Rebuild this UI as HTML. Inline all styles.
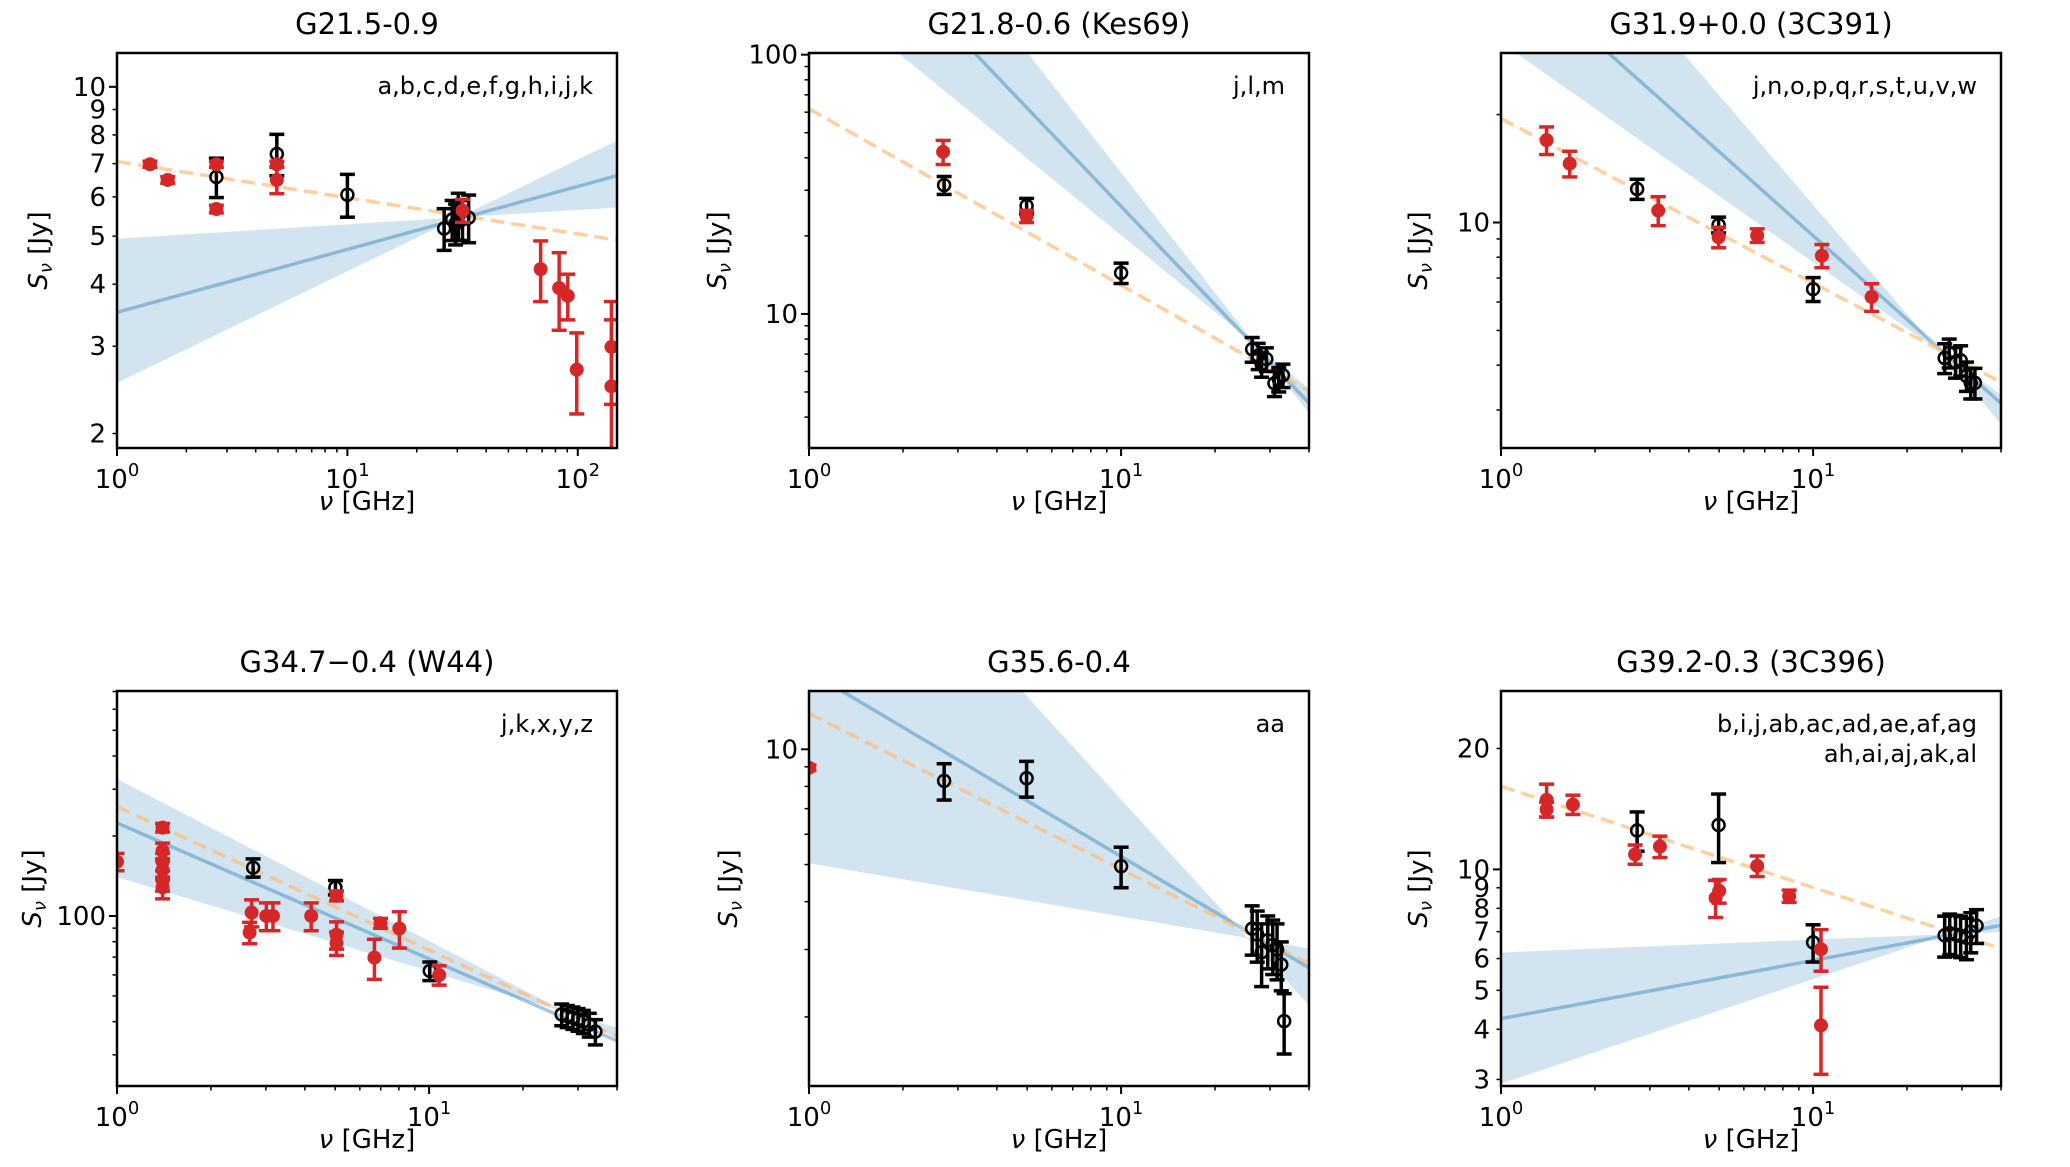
<!DOCTYPE html>
<html><head><meta charset="utf-8"><style>
html,body{margin:0;padding:0;background:#fff}
svg{display:block;font-family:"DejaVu Sans","Liberation Sans",sans-serif}
</style></head><body>
<svg id="fig" xmlns="http://www.w3.org/2000/svg" width="2070" height="1167" viewBox="0 0 2070 1167"></svg>
<script>
// ---------- Panel 1: G21.5-0.9 ----------
const p1RedFreq=[1.39,1.66,2.7,2.7,4.94,4.94,31.6,69,83,90.5,99,140,140];
const p1RedFlux=[6.98,6.49,6.98,5.67,6.98,6.49,5.63,4.29,3.93,3.79,2.69,2.99,2.49];
const p1RedErr=[0.1,0.1,0.1,0.1,0.1,0.4,0.3,0.6,0.7,0.4,0.5,0.7,0.9];
const p1BlkFreq=[2.7,4.94,10,26.3,28.5,29.5,30.3,31.6,33.6];
const p1BlkFlux=[6.58,7.32,6.06,5.18,5.4,5.3,5.5,5.4,5.45];
const p1BlkErr=[0.6,0.7,0.6,0.5,0.5,0.5,0.6,0.5,0.6];
const p1Dashed=[7.07,-0.073];
const p1Fit=[3.51,0.127];
const p1Band=[4.94,0.029,2.53,0.225];
const p1YTickLabels=[2,3,4,5,6,7,8,9,10];
// ---------- Panel 2: G21.8-0.6 ----------
const p2RedFreq=[2.69,4.98];
const p2RedFlux=[42.2,23.8];
const p2RedErr=[4.5,1.3];
const p2BlkFreq=[2.71,4.98,10,26.3,27.5,28.2,29.2,31,32,33];
const p2BlkFlux=[31.4,26.1,14.4,7.31,6.9,6.4,6.7,5.4,5.6,5.8];
const p2BlkErr=[2.5,1.8,1.3,0.8,0.8,0.7,0.7,0.6,0.6,0.6];
const p2Dashed=[61.8,-0.68];
const p2Fit=[473,-1.26];
const p2Band=[194,-0.984,1216,-1.54];
const p2YTickLabels=[10,100];
// ---------- Panel 3: G31.9+0.0 ----------
const p3RedFreq=[1.40,1.66,3.19,4.98,6.62,10.67,15.4];
const p3RedFlux=[16.97,14.6,10.8,9.1,9.2,8.08,6.2];
const p3RedErr=[1.5,1.2,1.0,0.6,0.4,0.6,0.55];
const p3BlkFreq=[2.73,4.98,10,26.4,27.3,28.6,29.7,31,32,33];
const p3BlkFlux=[12.4,9.85,6.52,4.19,4.33,4.08,4.13,3.73,3.57,3.57];
const p3BlkErr=[0.8,0.5,0.5,0.4,0.4,0.4,0.4,0.35,0.35,0.35];
const p3Dashed=[19.5,-0.459];
const p3Fit=[55,-0.777];
const p3Band=[31.8,-0.613,116,-1.015];
const p3YTickLabels=[10];
// ---------- Panel 4: G34.7-0.4 ----------
const p4RedFreq=[1.0,1.40,1.40,1.40,1.40,1.40,1.40,2.70,2.66,3.01,3.16,4.19,5.05,5.05,5.05,6.68,6.99,8.03,10.77];
const p4RedFlux=[160,215,176,160,149,136,128,103,86.6,100,100,100,119,85,79,69.7,93.9,89.7,59.9];
const p4RedErr=[12,8,12,12,12,12,12,12,8,12,12,12,5,10,8,12,4,14,5];
const p4BlkFreq=[2.73,5.01,10.05,26.6,27.7,28.9,30.0,31.2,32.6,34.1];
const p4BlkFlux=[152,128,62.1,42.6,42.0,41.4,40.8,40.1,39.0,36.7];
const p4BlkErr=[12,8,5,4,4,4,4,4,4,4];
const p4Dashed=[258,-0.54];
const p4Fit=[224,-0.512];
const p4Band=[328,-0.61,140,-0.354];
const p4YTickLabels=[100];
// ---------- Panel 5: G35.6-0.4 ----------
const p5RedFreq=[1.0];
const p5RedFlux=[8.95];
const p5RedErr=[0.15];
const p5BlkFreq=[2.71,4.98,10,26.3,27.3,28.2,29.5,30.6,31.6,32.6,33.3];
const p5BlkFlux=[8.27,8.4,4.95,3.4,3.28,2.95,3.17,3.08,3.0,2.74,1.95];
const p5BlkErr=[0.9,0.9,0.6,0.5,0.5,0.55,0.5,0.5,0.5,0.4,0.35];
const p5Dashed=[12.4,-0.407];
const p5Fit=[15.96,-0.483];
const p5Band=[57.8,-0.893,5.04,-0.139];
const p5YTickLabels=[10];
// ---------- Panel 6: G39.2-0.3 ----------
const p6RedFreq=[1.40,1.40,1.70,2.69,3.23,4.87,5.0,6.62,8.38,10.6,10.6];
const p6RedFlux=[14.9,14.1,14.5,10.9,11.4,8.49,8.84,10.2,8.58,6.33,4.09];
const p6RedErr=[1.4,0.6,0.8,0.6,0.7,0.9,0.6,0.6,0.3,0.75,1.0];
const p6BlkFreq=[2.73,4.98,10,26.4,27.4,28.6,29.7,31,32,33.4];
const p6BlkFlux=[12.5,12.9,6.58,6.85,6.94,6.88,6.83,6.76,7.0,7.24];
const p6BlkErr=[1.4,2.5,0.7,0.8,0.8,0.8,0.8,0.8,0.8,0.7];
const p6Dashed=[16.1,-0.252];
const p6Fit=[4.25,0.145];
const p6Band=[6.21,0.032,2.93,0.26];
const p6YTickLabels=[3,4,5,6,7,8,9,10,20];

const panels=[
 {name:'g21-5',title:'G21.5-0.9',refs:['a,b,c,d,e,f,g,h,i,j,k'],left:117,top:53,xmax:148,ymin:1.87,ymax:11.7,yl:80,
  rf:p1RedFreq,rs:p1RedFlux,re:p1RedErr,bf:p1BlkFreq,bs:p1BlkFlux,be:p1BlkErr,dash:p1Dashed,fit:p1Fit,band:p1Band,yt:p1YTickLabels},
 {name:'g21-8',title:'G21.8-0.6 (Kes69)',refs:['j,l,m'],left:809,top:53,xmax:40,ymin:3.04,ymax:101.5,yl:93,
  rf:p2RedFreq,rs:p2RedFlux,re:p2RedErr,bf:p2BlkFreq,bs:p2BlkFlux,be:p2BlkErr,dash:p2Dashed,fit:p2Fit,band:p2Band,yt:p2YTickLabels},
 {name:'g31-9',title:'G31.9+0.0 (3C391)',refs:['j,n,o,p,q,r,s,t,u,v,w'],left:1501,top:53,xmax:40,ymin:2.35,ymax:29.7,yl:84,
  rf:p3RedFreq,rs:p3RedFlux,re:p3RedErr,bf:p3BlkFreq,bs:p3BlkFlux,be:p3BlkErr,dash:p3Dashed,fit:p3Fit,band:p3Band,yt:p3YTickLabels},
 {name:'g34-7',title:'G34.7\u22120.4 (W44)',refs:['j,k,x,y,z'],left:117,top:691,xmax:40,ymin:22.9,ymax:703,yl:86,
  rf:p4RedFreq,rs:p4RedFlux,re:p4RedErr,bf:p4BlkFreq,bs:p4BlkFlux,be:p4BlkErr,dash:p4Dashed,fit:p4Fit,band:p4Band,yt:p4YTickLabels},
 {name:'g35-6',title:'G35.6-0.4',refs:['aa'],left:809,top:691,xmax:40,ymin:1.32,ymax:14.2,yl:82,
  rf:p5RedFreq,rs:p5RedFlux,re:p5RedErr,bf:p5BlkFreq,bs:p5BlkFlux,be:p5BlkErr,dash:p5Dashed,fit:p5Fit,band:p5Band,yt:p5YTickLabels},
 {name:'g39-2',title:'G39.2-0.3 (3C396)',refs:['b,i,j,ab,ac,ad,ae,af,ag','ah,ai,aj,ak,al'],left:1501,top:691,xmax:40,ymin:2.89,ymax:27.8,yl:84,
  rf:p6RedFreq,rs:p6RedFlux,re:p6RedErr,bf:p6BlkFreq,bs:p6BlkFlux,be:p6BlkErr,dash:p6Dashed,fit:p6Fit,band:p6Band,yt:p6YTickLabels}
];
const W=500,H=395;
const NS='http://www.w3.org/2000/svg';
const svg=document.getElementById('fig');
function mk(tag,attrs,parent){const e=document.createElementNS(NS,tag);for(const k in attrs)e.setAttribute(k,attrs[k]);(parent||svg).appendChild(e);return e;}

panels.forEach((p,pi)=>{
  const g=mk('g',{});
  
  
  const L=p.left,T=p.top,R=L+W,B=T+H;
  const xs=f=>L+Math.log10(f)/Math.log10(p.xmax)*W;
  const ys=s=>B-(Math.log10(s)-Math.log10(p.ymin))/(Math.log10(p.ymax)-Math.log10(p.ymin))*H;
  const cid='clip'+pi;
  const cp=mk('clipPath',{id:cid},g);mk('rect',{x:L,y:T,width:W,height:H},cp);
  const plot=mk('g',{'clip-path':'url(#'+cid+')'},g);
  
  
  const pl=(A,i,f)=>A*Math.pow(f,i);
  const N=120,up=[],lo=[];
  for(let k=0;k<=N;k++){const f=Math.pow(p.xmax,k/N);const a=pl(p.band[0],p.band[1],f),b=pl(p.band[2],p.band[3],f);
    up.push(xs(f).toFixed(1)+','+ys(Math.max(a,b)).toFixed(1));lo.unshift(xs(f).toFixed(1)+','+ys(Math.min(a,b)).toFixed(1));}
  const band=mk('polygon',{points:up.concat(lo).join(' '),fill:'#1f77b4','fill-opacity':0.2,stroke:'none'},plot);
  
  
  const fitL=mk('line',{x1:xs(1),y1:ys(pl(p.fit[0],p.fit[1],1)),x2:xs(p.xmax),y2:ys(pl(p.fit[0],p.fit[1],p.xmax)),stroke:'#1f77b4','stroke-opacity':0.4,'stroke-width':3.5},plot);
  
  
  const dl=mk('line',{x1:xs(1),y1:ys(pl(p.dash[0],p.dash[1],1)),x2:xs(p.xmax),y2:ys(pl(p.dash[0],p.dash[1],p.xmax)),stroke:'#ffbb78','stroke-opacity':0.7,'stroke-width':3.5,'stroke-dasharray':'14,7'},plot);
  
  
  function pts(F,S,E,color,filled,nm){
    F.forEach((f,i)=>{
      const x=xs(f),y=ys(S[i]),y1=ys(S[i]+E[i]),y2=ys(Math.max(S[i]-E[i],1e-3));
      const pg=mk('g',{stroke:color,'stroke-width':3.5},plot);
      
      
      mk('line',{x1:x,y1:y1,x2:x,y2:y2},pg);
      mk('line',{x1:x-7.5,y1:y1,x2:x+7.5,y2:y1},pg);
      mk('line',{x1:x-7.5,y1:y2,x2:x+7.5,y2:y2},pg);
      if(filled) mk('circle',{cx:x,cy:y,r:7,fill:color,stroke:'none'},pg);
      else mk('circle',{cx:x,cy:y,r:6,fill:'none','stroke-width':2.5},pg);
    });
  }
  pts(p.bf,p.bs,p.be,'#000',false,'this-work-point');
  pts(p.rf,p.rs,p.re,'#d62728',true,'literature-point');
  const fr=mk('rect',{x:L,y:T,width:W,height:H,fill:'none',stroke:'#000','stroke-width':2.5},g);
  
  
  const xa=mk('g',{},g);
  
  
  for(let d=0;d<3;d++)for(let m=1;m<10;m++){const f=m*Math.pow(10,d);if(f>p.xmax*1.0001)continue;const x=xs(f);
    mk('line',{x1:x,y1:B,x2:x,y2:B+(m==1?8:4.5),stroke:'#000','stroke-width':m==1?2:1.5},xa);
    if(m==1){const t=mk('text',{x:x,y:B+40,'font-size':26,'text-anchor':'middle'},xa);t.textContent='10';
      const s=mk('tspan',{dy:-12,'font-size':18},t);s.textContent=String(d);
      
      }}
  const xl=mk('text',{x:L+W/2,y:B+62,'font-size':26,'text-anchor':'middle'},g);
  
  
  const nu=mk('tspan',{'font-style':'italic'},xl);nu.textContent='\u03bd';
  const rest=mk('tspan',{},xl);rest.textContent=' [GHz]';
  const ya=mk('g',{},g);
  
  
  for(let d=-1;d<3;d++)for(let m=1;m<10;m++){const v=m*Math.pow(10,d);if(v<p.ymin||v>p.ymax)continue;const y=ys(v);
    const lab=p.yt.some(t=>Math.abs(t-v)<1e-6);const major=(m==1);
    mk('line',{x1:L,y1:y,x2:L-(major?8:4.5),y2:y,stroke:'#000','stroke-width':major?2:1.5},ya);
    if(lab){const t=mk('text',{x:L-11,y:y+9,'font-size':26,'text-anchor':'end'},ya);t.textContent=String(Math.round(v));
      
      }}
  const yl=mk('text',{x:0,y:0,'font-size':26,'text-anchor':'middle',transform:'translate('+(L-p.yl+10)+','+(T+H/2)+') rotate(-90)'},g);
  
  
  const sv=mk('tspan',{'font-style':'italic'},yl);sv.textContent='S';
  const sb=mk('tspan',{'font-style':'italic','font-size':18,dy:5},yl);sb.textContent='\u03bd';
  const jy=mk('tspan',{dy:-5},yl);jy.textContent=' [Jy]';
  const ti=mk('text',{x:L+W/2,y:T-19,'font-size':29,'text-anchor':'middle'},g);ti.textContent=p.title;
  
  
  p.refs.forEach((r,k)=>{const t=mk('text',{x:R-24,y:T+41+k*30,'font-size':24,'text-anchor':'end'},g);t.textContent=r;
    
    });
});
</script>
</body></html>
